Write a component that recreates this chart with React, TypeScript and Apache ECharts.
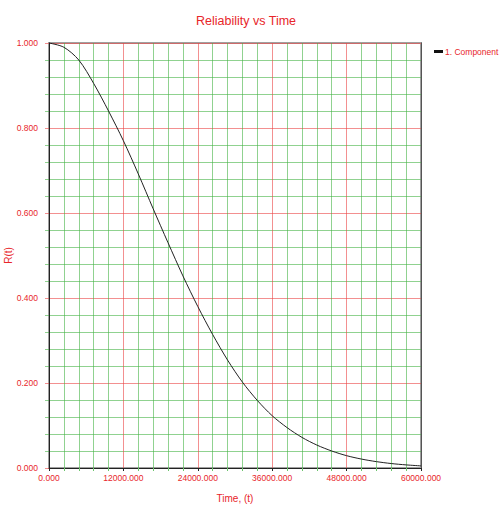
import React, { useEffect, useRef } from 'react';
import * as echarts from 'echarts';

// time points (every 2400) and R(t)
const times = [
  0, 2400, 4800, 7200, 9600, 12000, 14400, 16800, 19200, 21600, 24000, 26400, 28800,
  31200, 33600, 36000, 38400, 40800, 43200, 45600, 48000, 50400, 52800, 55200, 57600, 60000,
];
const reliability = [
  1.0, 0.99, 0.96, 0.905, 0.84, 0.77, 0.692, 0.61, 0.53, 0.452, 0.38, 0.314, 0.254,
  0.202, 0.159, 0.123, 0.095, 0.072, 0.054, 0.04, 0.029, 0.021, 0.015, 0.0105, 0.0073, 0.005,
];
const seriesName = '1. Component';

const RED = '#e8262a';
const FONT = 'Liberation Sans';

const ReliabilityChart: React.FC = () => {
  const chartRef = useRef<HTMLDivElement | null>(null);

  useEffect(() => {
    if (!chartRef.current) return;
    const chart = echarts.init(chartRef.current, undefined, { renderer: 'svg' });

    const fmt = (v: number) => v.toFixed(3);

    const option: echarts.EChartsOption = {
      animation: false,
      backgroundColor: '#fff',
      textStyle: { fontFamily: FONT },
      title: {
        text: 'Reliability vs Time',
        left: 191,
        top: 9,
        textStyle: { color: RED, fontSize: 12.5, fontWeight: 'normal', fontFamily: FONT },
      },
      legend: {
        data: [{ name: seriesName, icon: 'rect' }],
        left: 429,
        top: 42,
        itemWidth: 9,
        itemHeight: 3,
        itemGap: 2,
        textStyle: { color: RED, fontSize: 8.5, fontFamily: FONT, padding: [0, 0, 0, -3] },
      },
      grid: {
        left: 49,
        top: 43,
        right: 79,
        bottom: 40,
        outerBoundsMode: 'none',
        containLabel: false,
        show: true,
        borderColor: '#a0a0a0',
        borderWidth: 2,
      } as any,
      xAxis: {
        type: 'value',
        min: 0,
        max: 60000,
        interval: 12000,
        name: 'Time, (t)',
        nameLocation: 'middle',
        nameGap: 25,
        nameMoveOverlap: false,
        nameTextStyle: { color: RED, fontSize: 10, fontFamily: FONT },
        axisLine: { show: true, onZero: false, lineStyle: { color: '#222', width: 1 } },
        axisTick: { show: true, length: 3, lineStyle: { color: '#222' } },
        minorTick: { show: true, splitNumber: 5, length: 3, lineStyle: { color: '#6cc56c' } },
        axisLabel: { color: RED, fontSize: 8.5, fontFamily: FONT, margin: 5, formatter: fmt },
        splitLine: { show: true, lineStyle: { color: 'rgba(235,70,70,0.6)', width: 1 } },
        minorSplitLine: { show: true, lineStyle: { color: 'rgba(70,180,70,0.6)', width: 1 } },
      } as any,
      yAxis: [
        {
          type: 'value',
          min: 0,
          max: 1,
          interval: 0.2,
          name: 'R(t)',
          nameLocation: 'middle',
          nameGap: 36,
          nameMoveOverlap: false,
          nameTextStyle: { color: RED, fontSize: 10, fontFamily: FONT },
          axisLine: { show: true, lineStyle: { color: '#222', width: 1 } },
          axisTick: { show: true, length: 4, lineStyle: { color: 'rgba(235,70,70,0.6)' } },
          minorTick: { show: true, splitNumber: 5, length: 4, lineStyle: { color: 'rgba(70,180,70,0.6)' } },
          axisLabel: { color: RED, fontSize: 8.5, fontFamily: FONT, margin: 11, formatter: fmt },
          splitLine: { show: true, lineStyle: { color: 'rgba(235,70,70,0.6)', width: 1 } },
          minorSplitLine: { show: true, lineStyle: { color: 'rgba(70,180,70,0.6)', width: 1 } },
        } as any,
        {
          type: 'value',
          position: 'right',
          min: 0,
          max: 1,
          interval: 0.2,
          axisLine: { show: true, lineStyle: { color: '#555', width: 1 } },
          axisTick: { show: false },
          axisLabel: { show: false },
          splitLine: { show: false },
        },
      ],
      series: [
        {
          name: seriesName,
          type: 'line',
          data: times.map((t, i) => [t, reliability[i]]),
          smooth: 0.3,
          showSymbol: false,
          symbol: 'none',
          itemStyle: { color: '#111' },
          lineStyle: { color: '#222', width: 1 },
        },
      ],
    };

    chart.setOption(option);
    return () => {
      chart.dispose();
    };
  }, []);

  return (
    <div
      ref={chartRef}
      style={{ position: 'fixed', left: 0, top: 0, width: 500, height: 508 }}
    />
  );
};

export default function App() {
  return <ReliabilityChart />;
}
